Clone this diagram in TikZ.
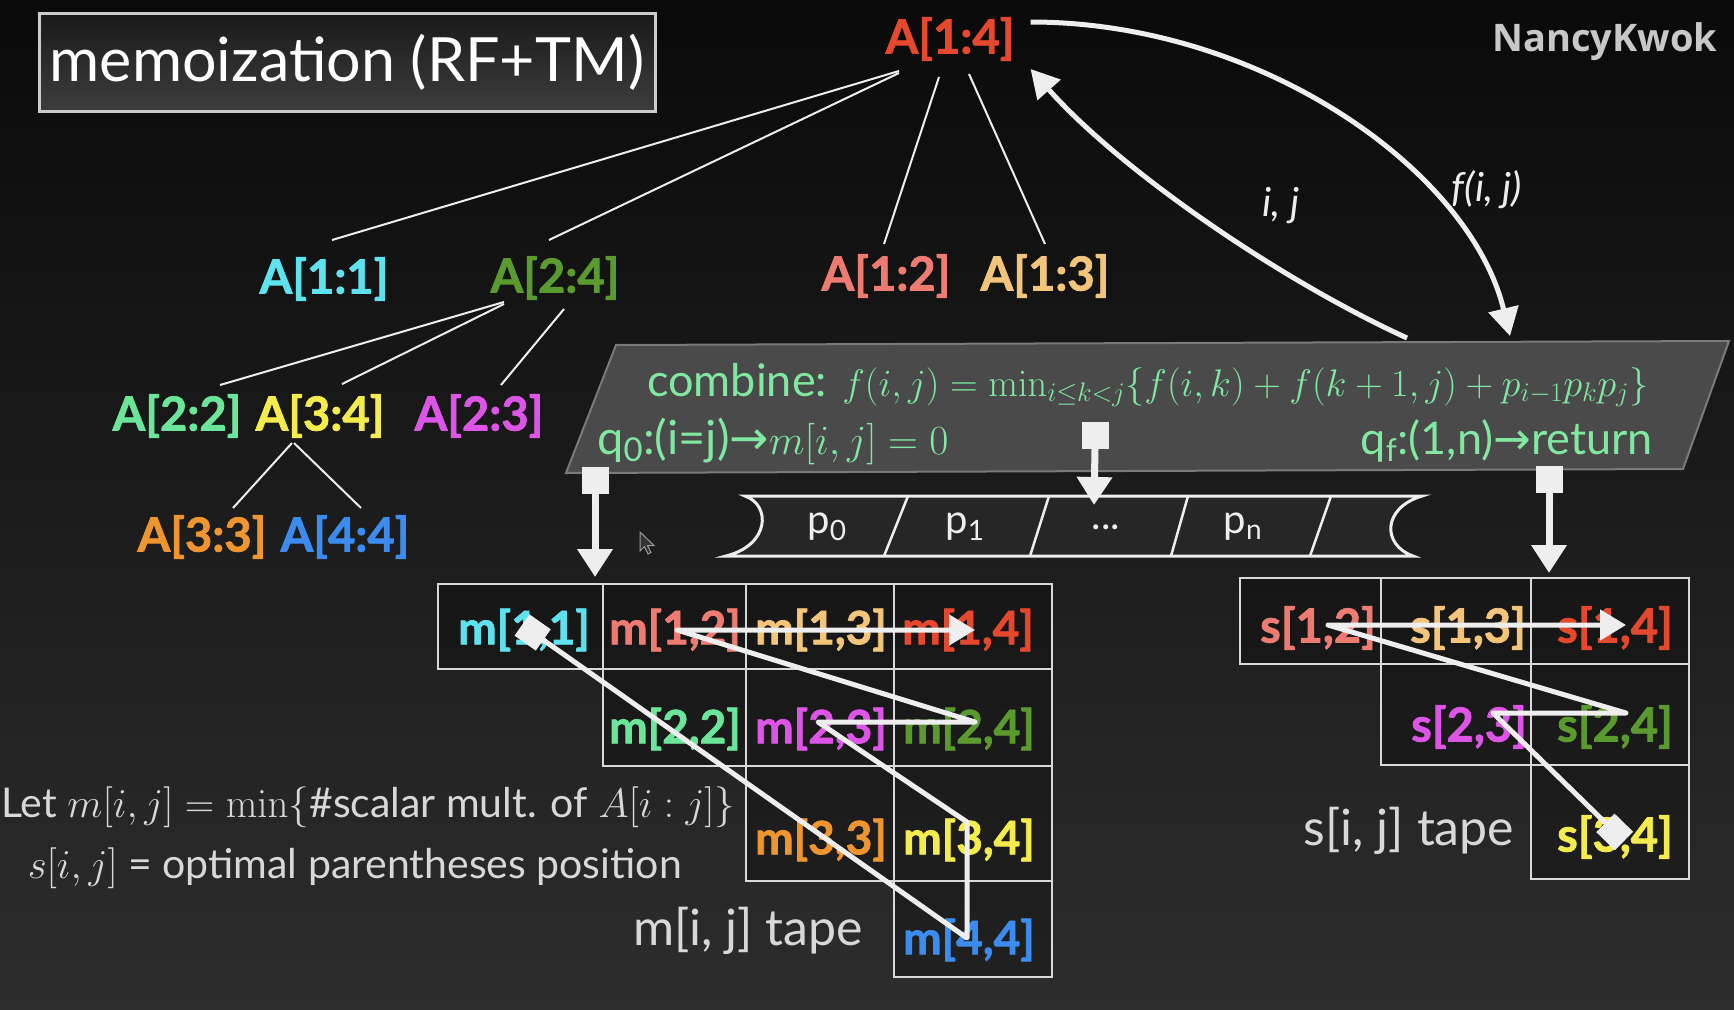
\RequirePackage{fix-cm}
\documentclass[tikz,border=0pt]{standalone}
\usepackage[no-math]{fontspec}
\setmainfont{Lato}
\newfontfamily\heavy{Lato}[BoldFeatures={FakeBold=1.6}]
\newfontfamily\nkfont{Open Sans}
\newfontfamily\djv{DejaVu Sans}
\usetikzlibrary{arrows.meta,calc}

\definecolor{bgtop}{HTML}{0A0A0A}
\definecolor{bgbot}{HTML}{2D2D2D}
\definecolor{cA14}{HTML}{E5482C}
\definecolor{cA11}{HTML}{5EE3EE}
\definecolor{cA24}{HTML}{5B9A2F}
\definecolor{cA12}{HTML}{EE7B72}
\definecolor{cA13}{HTML}{F3C57B}
\definecolor{cA22}{HTML}{6BE59A}
\definecolor{cA34}{HTML}{F3EC4C}
\definecolor{cA23}{HTML}{DC55E6}
\definecolor{cA33}{HTML}{EE9530}
\definecolor{cA44}{HTML}{3B8CEE}
\definecolor{combtext}{HTML}{80E8A0}
\definecolor{combfill}{HTML}{4A4A4A}
\definecolor{combedge}{HTML}{7A7A7A}
\definecolor{lighttext}{HTML}{D8D8D8}
\definecolor{chalkc}{HTML}{EEEEEE}
\definecolor{nkgray}{HTML}{C8C8C8}
\definecolor{cellline}{HTML}{D9D9D9}

\tikzset{
  alabel/.style={font=\heavy\fontsize{47}{52}\selectfont\bfseries, inner sep=0pt},
  mlabel/.style={font=\heavy\fontsize{46}{52}\selectfont\bfseries, inner sep=0pt},
  slabel/.style={font=\heavy\fontsize{47}{52}\selectfont\bfseries, inner sep=0pt},
  treeline/.style={draw=chalkc, line width=2pt},
  chalk/.style={draw=chalkc, line width=5pt, line join=round},
  cellst/.style={draw=cellline, line width=2.5pt, fill=black, fill opacity=0.25, draw opacity=1},
  ctext/.style={font=\fontsize{45}{50}\selectfont, text=combtext, inner sep=0pt},
  headsq/.style={fill=chalkc, minimum width=27pt, minimum height=27pt, inner sep=0pt},
  headarr/.style={draw=chalkc, line width=7pt, -{Triangle[length=28pt,width=34pt]}},
  plabel/.style={font=\fontsize{40}{46}\selectfont, text=chalkc, inner sep=0pt},
  tapetext/.style={font=\fontsize{50}{56}\selectfont, text=lighttext, inner sep=0pt},
  lettext/.style={font=\fontsize{41}{46}\selectfont, text=lighttext, inner sep=0pt},
  arrowlab/.style={font=\fontsize{40}{46}\selectfont\itshape, text=chalkc, inner sep=0pt}
}

\begin{document}
\begin{tikzpicture}[x=1pt,y=-1pt]
\path[use as bounding box] (0,0) rectangle (1734,1009);
\shade[top color=bgtop, bottom color=bgbot] (0,0) rectangle (1734,1009);
\clip (0,0) rectangle (1734,1009);

% title
\node[draw=white!80!black, line width=3pt, top color=black!90, bottom color=black!76,
      minimum width=616pt, minimum height=98pt, inner sep=0pt,
      font=\fontsize{61}{70}\selectfont, text=white] (title) at (347,62) {memoization (RF+TM)};

\node[font=\nkfont\bfseries\fontsize{38}{44}\selectfont, text=nkgray, inner sep=0pt] (nk) at (1605,42) {NancyKwok};

% tree
\node[alabel, text=cA14] (a14) at (950,39) {A[1:4]};
\node[alabel, text=cA11] (a11) at (324,279) {A[1:1]};
\node[alabel, text=cA24] (a24) at (555,278) {A[2:4]};
\node[alabel, text=cA12] (a12) at (886,276) {A[1:2]};
\node[alabel, text=cA13] (a13) at (1045,276) {A[1:3]};
\node[alabel, text=cA22] (a22) at (177,416) {A[2:2]};
\node[alabel, text=cA34] (a34) at (320,416) {A[3:4]};
\node[alabel, text=cA23] (a23) at (479,416) {A[2:3]};
\node[alabel, text=cA33] (a33) at (202,537) {A[3:3]};
\node[alabel, text=cA44] (a44) at (345,537) {A[4:4]};

\draw[treeline] ($(a14)+(-51,32)$) -- ($(a11)+(8,-39)$);
\draw[treeline] ($(a14)+(-51,34)$) -- ($(a24)+(-6,-38)$);
\draw[treeline] ($(a14)+(-11,38)$) -- ($(a12)+(-2,-32)$);
\draw[treeline] ($(a14)+(19,35)$) -- ($(a13)+(0,-32)$);
\draw[treeline] ($(a24)+(-51,24)$) -- ($(a22)+(43,-31)$);
\draw[treeline] ($(a24)+(-51,26)$) -- ($(a34)+(22,-32)$);
\draw[treeline] ($(a24)+(9,31)$) -- ($(a23)+(22,-31)$);
\draw[treeline] ($(a34)+(-28,27)$) -- ($(a33)+(31,-29)$);
\draw[treeline] ($(a34)+(-26,27)$) -- ($(a44)+(16,-29)$);

% combine box
\filldraw[fill=combfill, draw=combedge, line width=2pt] (616,345) -- (1729,341) -- (1683,469) -- (566,473) -- cycle;
\node[ctext, anchor=west] (comb) at (647,385) {combine: {\fontsize{38.4}{44}\selectfont$f(i,j) = \min_{i\le k<j}\{f(i,k)+f(k+1,j)+p_{i-1}p_kp_j\}$}};
\node[ctext, anchor=west] (q0) at (597,441) {\fontsize{47}{52}\selectfont q\textsubscript{0}:(i=j){\djv→}{\fontsize{41.5}{46}\selectfont$m[i,j]=0$}};
\node[ctext, anchor=east] (qf) at (1653,441) {q\textsubscript{f}:(1,n){\djv→}return};

% curved arrows
\coordinate (fend) at (1510,336);
\coordinate (ijst) at (1407,338);
\draw[chalk, -{Triangle[length=28pt,width=30pt]}] ($(a14.east)+(16,-17)$) .. controls (1260,22) and (1470,170) .. (fend);
\draw[chalk, -{Triangle[length=28pt,width=30pt]}] (ijst) .. controls (1280,280) and (1120,170) .. ($(a14.east)+(16,30)$);
\node[arrowlab] (flab) at (1487,190) {f(i, j)};
\node[arrowlab] (ijlab) at (1281,206) {i, j};

% tape
\filldraw[fill=black!85, draw=chalkc, line width=3pt] (745,496) -- (1422,496) .. controls (1382,508) and (1382,545) .. (1413,556) -- (726,556) .. controls (770,545) and (771,505) .. (745,496) -- cycle;
\draw[draw=chalkc, line width=2.5pt] (908,496) -- (884,556);
\draw[draw=chalkc, line width=2.5pt] (1049,496) -- (1030,556);
\draw[draw=chalkc, line width=2.5pt] (1188,496) -- (1171,556);
\draw[draw=chalkc, line width=2.5pt] (1331,496) -- (1310,556);
\node[plabel] (p0) at (827,527) {p\textsubscript{0}};
\node[plabel] (p1) at (965,527) {p\textsubscript{1}};
\node[plabel] (pd) at (1106,527) {...};
\node[plabel] (pn) at (1243,527) {p\textsubscript{n}};

% heads
\node[headsq] (h1) at (595,480) {};
\node[headsq] (h2) at (1095,435) {};
\node[headsq] (h3) at (1549,479) {};
\coordinate (t1) at (595,577);
\coordinate (t2) at (1094,505);
\coordinate (t3) at (1549,573);
\draw[headarr] (h1.south) -- (t1);
\draw[headarr] (h2.south) -- (t2);
\draw[headarr] (h3.south) -- (t3);

% cursor
\filldraw[fill=black!80, draw=white!60!black, line width=1pt] (640,532) -- (640,551) -- (644.5,546.5) -- (648,554) -- (651,552.5) -- (647.5,545.5) -- (654,545.5) -- cycle;

% m table
\draw[cellst] (438,584) rectangle (603,669);
\draw[cellst] (603,584) rectangle (746,669);
\draw[cellst] (746,584) rectangle (894,669);
\draw[cellst] (894,584) rectangle (1052,669);
\draw[cellst] (603,669) rectangle (746,766);
\draw[cellst] (746,669) rectangle (894,766);
\draw[cellst] (894,669) rectangle (1052,766);
\draw[cellst] (746,766) rectangle (894,881);
\draw[cellst] (894,766) rectangle (1052,881);
\draw[cellst] (894,881) rectangle (1052,977);

\node[mlabel, text=cA11] (m11) at (524,630) {m[1,1]};
\node[mlabel, text=cA12] (m12) at (675,630) {m[1,2]};
\node[mlabel, text=cA13] (m13) at (821,630) {m[1,3]};
\node[mlabel, text=cA14] (m14) at (968,630) {m[1,4]};
\node[mlabel, text=cA22] (m22) at (675,729) {m[2,2]};
\node[mlabel, text=cA23] (m23) at (821,729) {m[2,3]};
\node[mlabel, text=cA24] (m24) at (969,729) {m[2,4]};
\node[mlabel, text=cA33] (m33) at (821,840) {m[3,3]};
\node[mlabel, text=cA34] (m34) at (969,840) {m[3,4]};
\node[mlabel, text=cA44] (m44) at (969,940) {m[4,4]};

\draw[chalk, {Square[length=26pt,width=26pt]}-{Triangle[length=26pt,width=30pt]}]
  ($(m11)+(-2,-5)$) -- ($(m44)+(-2,-2)$) -- ($(m34)+(-2,-18)$) -- ($(m23)+(-3,-7)$)
  -- ($(m24)+(6,-7)$) -- ($(m12)+(2,0)$) -- ($(m14)+(7,0)$);

% s table
\draw[cellst] (1240,578) rectangle (1381,664);
\draw[cellst] (1381,578) rectangle (1531,664);
\draw[cellst] (1531,578) rectangle (1689,664);
\draw[cellst] (1381,664) rectangle (1531,765);
\draw[cellst] (1531,664) rectangle (1689,765);
\draw[cellst] (1531,765) rectangle (1689,879);

\node[slabel, text=cA12] (s12) at (1318,628) {s[1,2]};
\node[slabel, text=cA13] (s13) at (1468,628) {s[1,3]};
\node[slabel, text=cA14] (s14) at (1615,628) {s[1,4]};
\node[slabel, text=cA23] (s23) at (1469,727) {s[2,3]};
\node[slabel, text=cA24] (s24) at (1615,727) {s[2,4]};
\node[slabel, text=cA34] (s34) at (1615,837) {s[3,4]};

\draw[chalk, {Square[length=26pt,width=26pt]}-{Triangle[length=26pt,width=30pt]}]
  ($(s34)+(9,4)$) -- ($(s23)+(24,-14)$) -- ($(s24)+(11,-14)$) -- ($(s12)+(10,-3)$) -- ($(s14)+(11,-3)$);

% texts
\node[tapetext] (mtape) at (748,931) {m[i, j] tape};
\node[tapetext] (stape) at (1409,831) {s[i, j] tape};
\node[lettext, anchor=west] (let1) at (1,807) {Let $m[i,j] = \min\{$\#scalar mult. of $A[i:j]\}$};
\node[lettext, anchor=east] (let2) at (682,868) {$s[i,j]$ = optimal parentheses position};
\end{tikzpicture}
\end{document}
